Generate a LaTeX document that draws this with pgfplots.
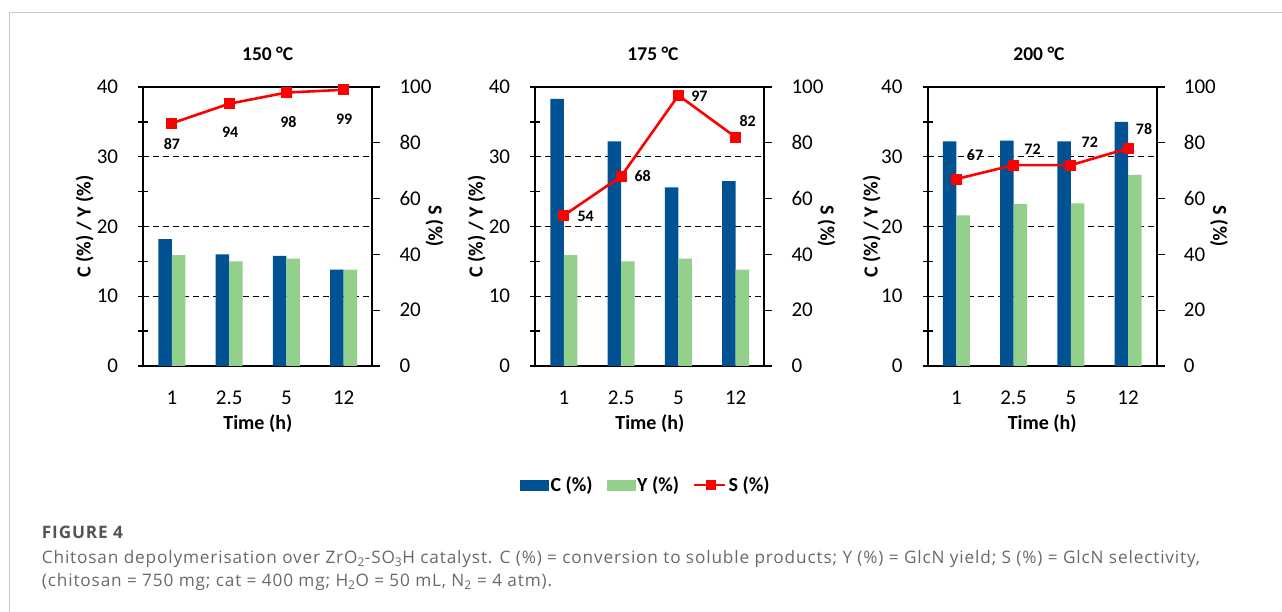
\documentclass[border=0pt]{standalone}
\usepackage{pgfplots}
\pgfplotsset{compat=1.18}
\usepackage{pgfplotstable}
\usepackage{fontspec}
\setmainfont{Carlito}
\newfontfamily\capfont[LetterSpace=5]{Open Sans}
\definecolor{cblue}{RGB}{0,82,147}
\definecolor{cgreen}{RGB}{146,208,140}
\definecolor{cred}{RGB}{255,0,0}
\definecolor{capgray}{RGB}{105,105,105}
\definecolor{figgray}{RGB}{85,85,85}
\definecolor{framegray}{RGB}{200,200,200}

\pgfplotstableread{
x C Y S dx dy
0 18.2 15.9 87 0 -21
1 16.0 15.0 94 1 -28.5
2 15.8 15.4 98 2 -29
3 13.8 13.8 99 0.5 -29.5
}\tabA
\pgfplotstableread{
x C Y S dx dy
0 38.3 15.9 54 21.8 -1
1 32.2 15.0 68 21.5 0
2 25.6 15.4 97 21 -1
3 26.5 13.8 82 12 16
}\tabB
\pgfplotstableread{
x C Y S dx dy
0 32.2 21.6 67 18.7 24
1 32.3 23.2 72 19 16
2 32.2 23.3 72 19 23
3 35.0 27.4 78 16 19.5
}\tabC

\pgfplotsset{
  leftax/.style={
    scale only axis, width=229pt, height=279pt, anchor=south west,
    xmin=-0.5, xmax=3.5, ymin=0, ymax=40,
    xtick={0,1,2,3}, xticklabels={1,2.5,5,12},
    xtick style={draw=none},
    ytick={0,10,20,30,40}, minor ytick={5,15,25,35},
    ytick pos=left, xtick pos=bottom,
    tick align=center, major tick length=10pt, minor tick length=10pt,
    ytick style={black, line width=1.3pt},
    minor tick style={black, line width=1.3pt},
    ymajorgrids, grid style={black, dash pattern=on 6pt off 4pt, line width=1.2pt},
    axis line style={line width=1.8pt},
    tick label style={font=\fontsize{21}{21}\selectfont},
    /pgf/number format/assume math mode=true,
    xticklabel style={anchor=center, yshift=-27pt},
    yticklabel style={anchor=east, inner sep=0pt, xshift=-20pt},
    xlabel={Time (h)},
    xlabel style={at={(axis description cs:0.5,-0.208)}, anchor=center, font=\bfseries\fontsize{20}{20}\selectfont},
    ylabel={C (\%) / Y (\%)},
    ylabel style={anchor=center, font=\bfseries\fontsize{20}{20}\selectfont},
    title style={anchor=center, yshift=0pt, font=\bfseries\fontsize{19.5}{19.5}\selectfont},
  },
  rightax/.style={
    scale only axis, width=229pt, height=279pt, anchor=south west,
    xmin=-0.5, xmax=3.5, ymin=0, ymax=100,
    ytick={0,20,40,60,80,100},
    axis y line*=right, axis x line=none,
    tick align=outside, major tick length=8pt,
    ytick style={black, line width=1.3pt},
    axis line style={line width=1.8pt},
    tick label style={font=\fontsize{21}{21}\selectfont},
    /pgf/number format/assume math mode=true,
    yticklabel style={anchor=west, inner sep=0pt, xshift=19pt},
    ylabel={S (\%)},
    ylabel style={rotate=180, at={(axis description cs:1.272,0.5)}, anchor=center, font=\bfseries\fontsize{20}{20}\selectfont},
    clip=false,
  },
  barC/.style={ybar, fill=cblue, draw=none, bar width=13.5pt, bar shift=-6.75pt},
  barY/.style={ybar, fill=cgreen, draw=none, bar width=13.5pt, bar shift=6.75pt},
  lineS/.style={cred, line width=2.6pt, mark=square*, mark size=5pt,
    mark options={solid, fill=cred, draw=cred, line width=0pt},
    nodes near coords={\pgfmathprintnumber{\pgfplotspointmeta}},
    visualization depends on={\thisrow{dx} \as \dx},
    visualization depends on={\thisrow{dy} \as \dy},
    nodes near coords style={anchor=center, text=black, inner sep=0pt,
      xshift=\dx pt, yshift=\dy pt, font=\bfseries\fontsize{16}{16}\selectfont},
  },
}

\begin{document}
\begin{tikzpicture}
\useasboundingbox (0,0) rectangle (1282pt,612pt);
\draw[framegray, line width=1.4pt] (9.3pt,0pt) -- (9.3pt,599.7pt) -- (1282pt,599.7pt);

% Panel 1
\begin{axis}[leftax, at={(143.3pt,246pt)},
  title={150 °C}, title style={at={(axis description cs:0.543,1.098)}},
  ylabel style={at={(axis description cs:-0.256,0.5)}}]
\addplot[barC] table[x=x,y=C]{\tabA};
\addplot[barY] table[x=x,y=Y]{\tabA};
\end{axis}
\begin{axis}[rightax, at={(143.3pt,246pt)}]
\addplot[lineS] table[x=x,y=S,meta=S]{\tabA};
\end{axis}

% Panel 2
\begin{axis}[leftax, at={(535.3pt,246pt)},
  title={175 °C}, title style={at={(axis description cs:0.514,1.098)}},
  ylabel style={at={(axis description cs:-0.256,0.5)}}]
\addplot[barC] table[x=x,y=C]{\tabB};
\addplot[barY] table[x=x,y=Y]{\tabB};
\end{axis}
\begin{axis}[rightax, at={(535.3pt,246pt)},
  legend style={at={(axis description cs:0.483,-0.4265)}, anchor=center, draw=none, fill=none,
    legend columns=3, font=\bfseries\fontsize{20}{20}\selectfont,
    nodes={inner xsep=2pt, inner ysep=1pt},
    /tikz/every even column/.append style={column sep=12pt}},
  legend cell align=left]
\addlegendimage{legend image code/.code={\fill[cblue] (0pt,-5pt) rectangle (28pt,5pt);}}
\addlegendentry{C (\%)}
\addlegendimage{legend image code/.code={\fill[cgreen] (0pt,-5pt) rectangle (28pt,5pt);}}
\addlegendentry{Y (\%)}
\addlegendimage{legend image code/.code={\draw[cred, line width=2.6pt] (0pt,0pt) -- (31pt,0pt); \fill[cred] (11.5pt,-4.5pt) rectangle (20.5pt,4.5pt);}}
\addlegendentry{S (\%)}
\addplot[lineS, forget plot] table[x=x,y=S,meta=S]{\tabB};
\end{axis}

% Panel 3
\begin{axis}[leftax, at={(927.7pt,246pt)},
  title={200 °C}, title style={at={(axis description cs:0.486,1.098)}},
  ylabel style={at={(axis description cs:-0.245,0.5)}}]
\addplot[barC] table[x=x,y=C]{\tabC};
\addplot[barY] table[x=x,y=Y]{\tabC};
\end{axis}
\begin{axis}[rightax, at={(927.7pt,246pt)}]
\addplot[lineS] table[x=x,y=S,meta=S]{\tabC};
\end{axis}

% Caption
\node[anchor=base west, inner sep=0pt, text=figgray, font=\capfont\bfseries\fontsize{17.2}{17.2}\selectfont] at (41.7pt,73pt) {FIGURE 4};
\node[anchor=base west, inner sep=0pt, text=capgray, font=\capfont\fontsize{17.2}{17.2}\selectfont] at (41.7pt,48pt)
  {Chitosan depolymerisation over ZrO\textsubscript{2}-SO\textsubscript{3}H catalyst. C (\%) = conversion to soluble products; Y (\%) = GlcN yield; S (\%) = GlcN selectivity,};
\node[anchor=base west, inner sep=0pt, text=capgray, font=\capfont\fontsize{17.2}{17.2}\selectfont] at (41.7pt,25pt)
  {(chitosan = 750 mg; cat = 400 mg; H\textsubscript{2}O = 50 mL, N\textsubscript{2} = 4 atm).};
\end{tikzpicture}
\end{document}
